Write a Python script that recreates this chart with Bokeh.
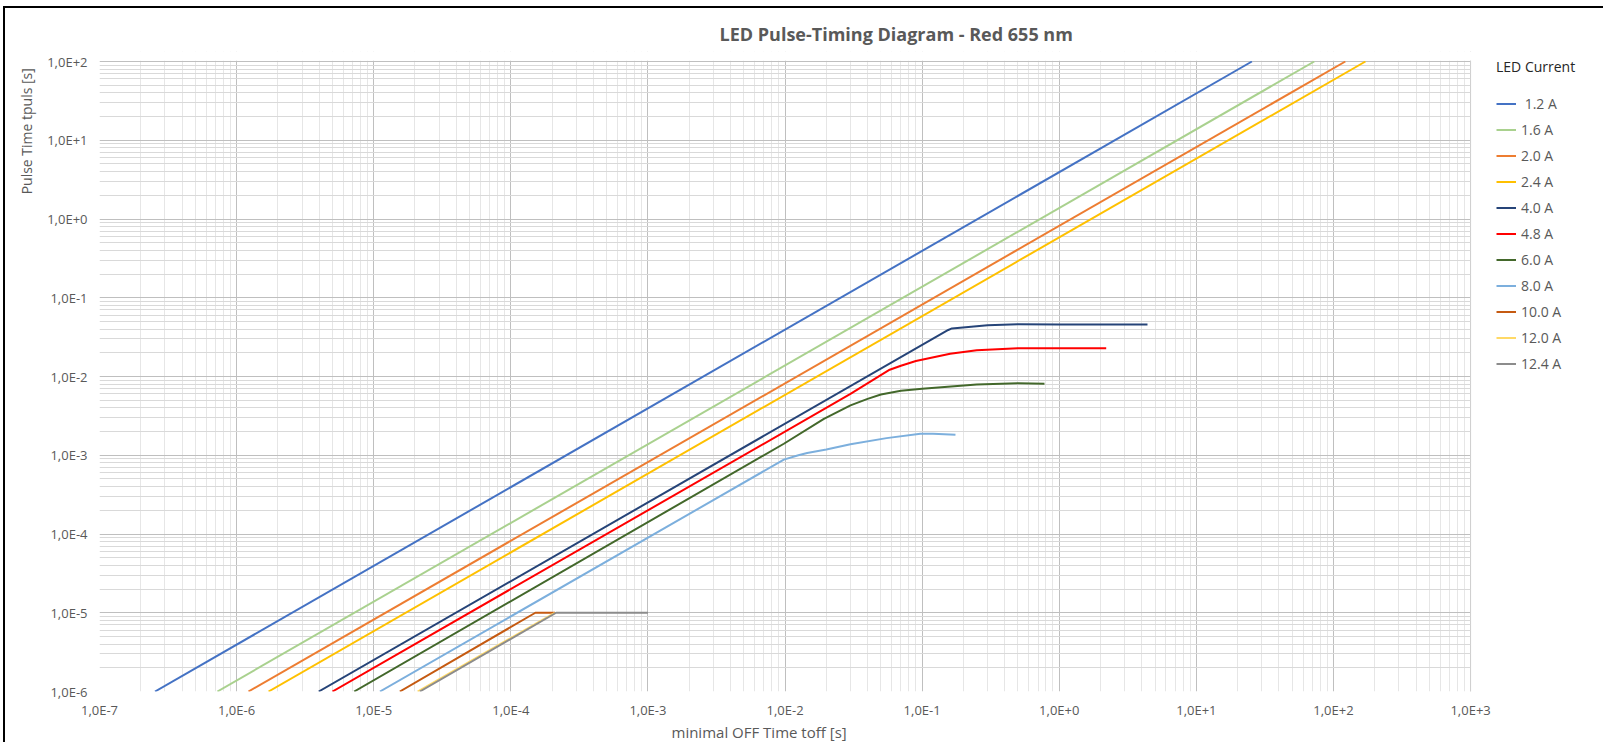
from bokeh.plotting import figure
from bokeh.models import FixedTicker, Legend, LegendItem, Title, Range1d, BoxAnnotation, Span
from bokeh.embed import file_html
from bokeh.resources import INLINE

# ---------------- data ----------------
currents = [" 1.2 A", "1.6 A", "2.0 A", "2.4 A", "4.0 A", "4.8 A",
            "6.0 A", "8.0 A", "10.0 A", "12.0 A", "12.4 A"]
colors = ["#4472C4", "#A9D18E", "#ED7D31", "#FFC000", "#264478", "#FF0000",
          "#43682B", "#7CAFDD", "#C55A11", "#FFD966", "#8C8C8C"]

toff_1_2 = [2.54e-7, 25.4]
tpuls_1_2 = [1e-6, 1e2]
toff_1_6 = [7.24e-7, 72.4]
tpuls_1_6 = [1e-6, 1e2]
toff_2_0 = [1.22e-6, 122.0]
tpuls_2_0 = [1e-6, 1e2]
toff_2_4 = [1.71e-6, 171.0]
tpuls_2_4 = [1e-6, 1e2]
toff_4_0 = [3.97e-6, 0.155, 0.165, 0.3, 0.5, 1.0, 4.4]
tpuls_4_0 = [1e-6, 0.039, 0.0408, 0.0449, 0.0462, 0.0458, 0.0457]
toff_4_8 = [5.0e-6, 0.03, 0.058, 0.07, 0.09, 0.16, 0.25, 0.5, 1.0, 2.2]
tpuls_4_8 = [1e-6, 0.006, 0.0122, 0.0137, 0.0157, 0.0194, 0.0216, 0.0229, 0.0229, 0.0228]
toff_6_0 = [7.2e-6, 0.0098, 0.0192, 0.03, 0.04, 0.05, 0.07, 0.1, 0.25, 0.5, 0.78]
tpuls_6_0 = [1e-6, 0.0014, 0.0029, 0.0043, 0.0052, 0.0059, 0.0066, 0.0070, 0.0079, 0.0082, 0.0081]
toff_8_0 = [1.11e-5, 0.0098, 0.0125, 0.0145, 0.02, 0.03, 0.055, 0.097, 0.12, 0.175]
tpuls_8_0 = [1e-6, 8.8e-4, 0.00100, 0.00107, 0.00118, 0.00138, 0.00165, 0.00187, 0.00188, 0.00182]
toff_10_0 = [1.55e-5, 1.51e-4, 2.1e-4]
tpuls_10_0 = [1e-6, 1e-5, 1e-5]
toff_12_0 = [2.09e-5, 2.09e-4]
tpuls_12_0 = [1e-6, 1e-5]
toff_12_4 = [2.17e-5, 2.14e-4, 1e-3]
tpuls_12_4 = [1e-6, 1e-5, 1e-5]

series_x = [toff_1_2, toff_1_6, toff_2_0, toff_2_4, toff_4_0, toff_4_8,
            toff_6_0, toff_8_0, toff_10_0, toff_12_0, toff_12_4]
series_y = [tpuls_1_2, tpuls_1_6, tpuls_2_0, tpuls_2_4, tpuls_4_0, tpuls_4_8,
            tpuls_6_0, tpuls_8_0, tpuls_10_0, tpuls_12_0, tpuls_12_4]

x_ticks = [1e-7, 1e-6, 1e-5, 1e-4, 1e-3, 1e-2, 1e-1, 1e0, 1e1, 1e2, 1e3]
x_tick_labels = ["1,0E-7", "1,0E-6", "1,0E-5", "1,0E-4", "1,0E-3", "1,0E-2",
                 "1,0E-1", "1,0E+0", "1,0E+1", "1,0E+2", "1,0E+3"]
y_ticks = [1e-6, 1e-5, 1e-4, 1e-3, 1e-2, 1e-1, 1e0, 1e1, 1e2]
y_tick_labels = ["1,0E-6", "1,0E-5", "1,0E-4", "1,0E-3", "1,0E-2",
                 "1,0E-1", "1,0E+0", "1,0E+1", "1,0E+2"]

title_text = "LED Pulse-Timing Diagram - Red 655 nm"
x_label = "minimal OFF Time  toff [s]"
y_label = "Pulse Time  tpuls [s]"
legend_title = "LED Current"

x_minor = [m * t for t in x_ticks[:-1] for m in range(2, 10)]
y_minor = [m * t for t in y_ticks[:-1] for m in range(2, 10)]

FONT = "Open Sans"
GRAY = "#595959"

# layout geometry (pixels)
W, H = 1600, 736
LEFT, TOP, BOTTOM = 93, 43, 53
PLOT_W, PLOT_H = 1372, 630     # size of the decade grid (1E-7..1E+3, 1E-6..1E+2)
EXTRA_R = W - LEFT - PLOT_W    # room on the right for the legend
EXTRA_T = 10                   # room above the grid for the legend title
px_x = PLOT_W / 10.0           # pixels per decade
px_y = PLOT_H / 8.0
x_end = x_ticks[-1] * 10 ** (EXTRA_R / px_x)
y_end = y_ticks[-1] * 10 ** (EXTRA_T / px_y)

p = figure(width=W, height=H, x_axis_type="log", y_axis_type="log",
           x_range=Range1d(x_ticks[0], x_end), y_range=Range1d(y_ticks[0], y_end),
           output_backend="svg", toolbar_location=None,
           min_border_left=LEFT, min_border_right=0,
           min_border_top=TOP, min_border_bottom=BOTTOM)
p.styles = {"margin-left": "3px", "margin-top": "6px", "overflow": "hidden",
            "border-top": "2px solid #000000", "border-left": "2px solid #000000"}

p.background_fill_color = "white"
p.border_fill_color = "white"
p.outline_line_color = None

# title
p.title.text = title_text
p.title.align = "left"
p.title.offset = 620
p.title.text_font = FONT
p.title.text_font_size = "18px"
p.title.text_font_style = "bold"
p.title.text_color = GRAY
p.title.standoff = 11

# axes
xt = FixedTicker(ticks=x_ticks, minor_ticks=x_minor)
yt = FixedTicker(ticks=y_ticks, minor_ticks=y_minor)
for ax, tk, labs in ((p.xaxis[0], xt, x_tick_labels), (p.yaxis[0], yt, y_tick_labels)):
    ax.ticker = tk
    ax.major_label_overrides = dict(zip(tk.ticks, labs))
    ax.axis_line_color = None
    ax.major_tick_line_color = None
    ax.minor_tick_line_color = None
    ax.major_tick_out = 0
    ax.major_tick_in = 0
    ax.minor_tick_out = 0
    ax.minor_tick_in = 0
    ax.major_label_text_font = FONT
    ax.major_label_text_font_size = "13px"
    ax.major_label_text_color = GRAY
p.xaxis.major_label_standoff = 9
p.yaxis.major_label_standoff = 12

p.xgrid[0].ticker = xt
p.ygrid[0].ticker = yt
p.xgrid.grid_line_color = "#bfbfbf"
p.ygrid.grid_line_color = "#bfbfbf"
p.xgrid.minor_grid_line_color = "#e6e6e6"
p.ygrid.minor_grid_line_color = "#d9d9d9"

# axis labels as titles (they are offset from centre in the reference)
xl = Title(text=x_label, align="left", offset=572, text_font=FONT,
           text_font_size="15px", text_font_style="normal", text_color=GRAY,
           vertical_align="top", standoff=0)
p.add_layout(xl, "below")
yl = Title(text=y_label, align="right", offset=13, text_font=FONT,
           text_font_size="14px", text_font_style="normal", text_color=GRAY,
           standoff=18)
p.add_layout(yl, "left")

# lines
items = []
for name, col, xs, ys in zip(currents, colors, series_x, series_y):
    r = p.line(xs, ys, line_color=col, line_width=2)
    items.append(LegendItem(label=name, renderers=[r]))

# white areas outside the decade grid (legend area on the right, strip on top)
mask_r = BoxAnnotation(left=x_ticks[-1], fill_color="white", fill_alpha=1.0,
                       line_color=None)
mask_t = BoxAnnotation(bottom=y_ticks[-1] * 10 ** (1.0 / px_y), fill_color="white",
                       fill_alpha=1.0, line_color=None)
p.add_layout(mask_r)
p.add_layout(mask_t)
edge = Span(location=x_ticks[-1], dimension="height", line_color="#d0d0d0",
            line_width=1)
p.add_layout(edge)
mask_t2 = BoxAnnotation(bottom=y_ticks[-1] * 10 ** (1.0 / px_y), fill_color="white",
                        fill_alpha=1.0, line_color=None)
p.add_layout(mask_t2)

leg = Legend(items=items, location=(1397, 317), title=legend_title,
             margin=0, padding=0, spacing=5, glyph_width=20, glyph_height=21,
             label_height=21, label_standoff=5, title_standoff=17,
             background_fill_alpha=0, border_line_color=None,
             label_text_font=FONT, label_text_font_size="14px",
             label_text_color=GRAY, title_text_font=FONT,
             title_text_font_size="14px", title_text_font_style="normal",
             title_text_color="#262626")
p.add_layout(leg)

open("out.html", "w").write(file_html(p, INLINE))
